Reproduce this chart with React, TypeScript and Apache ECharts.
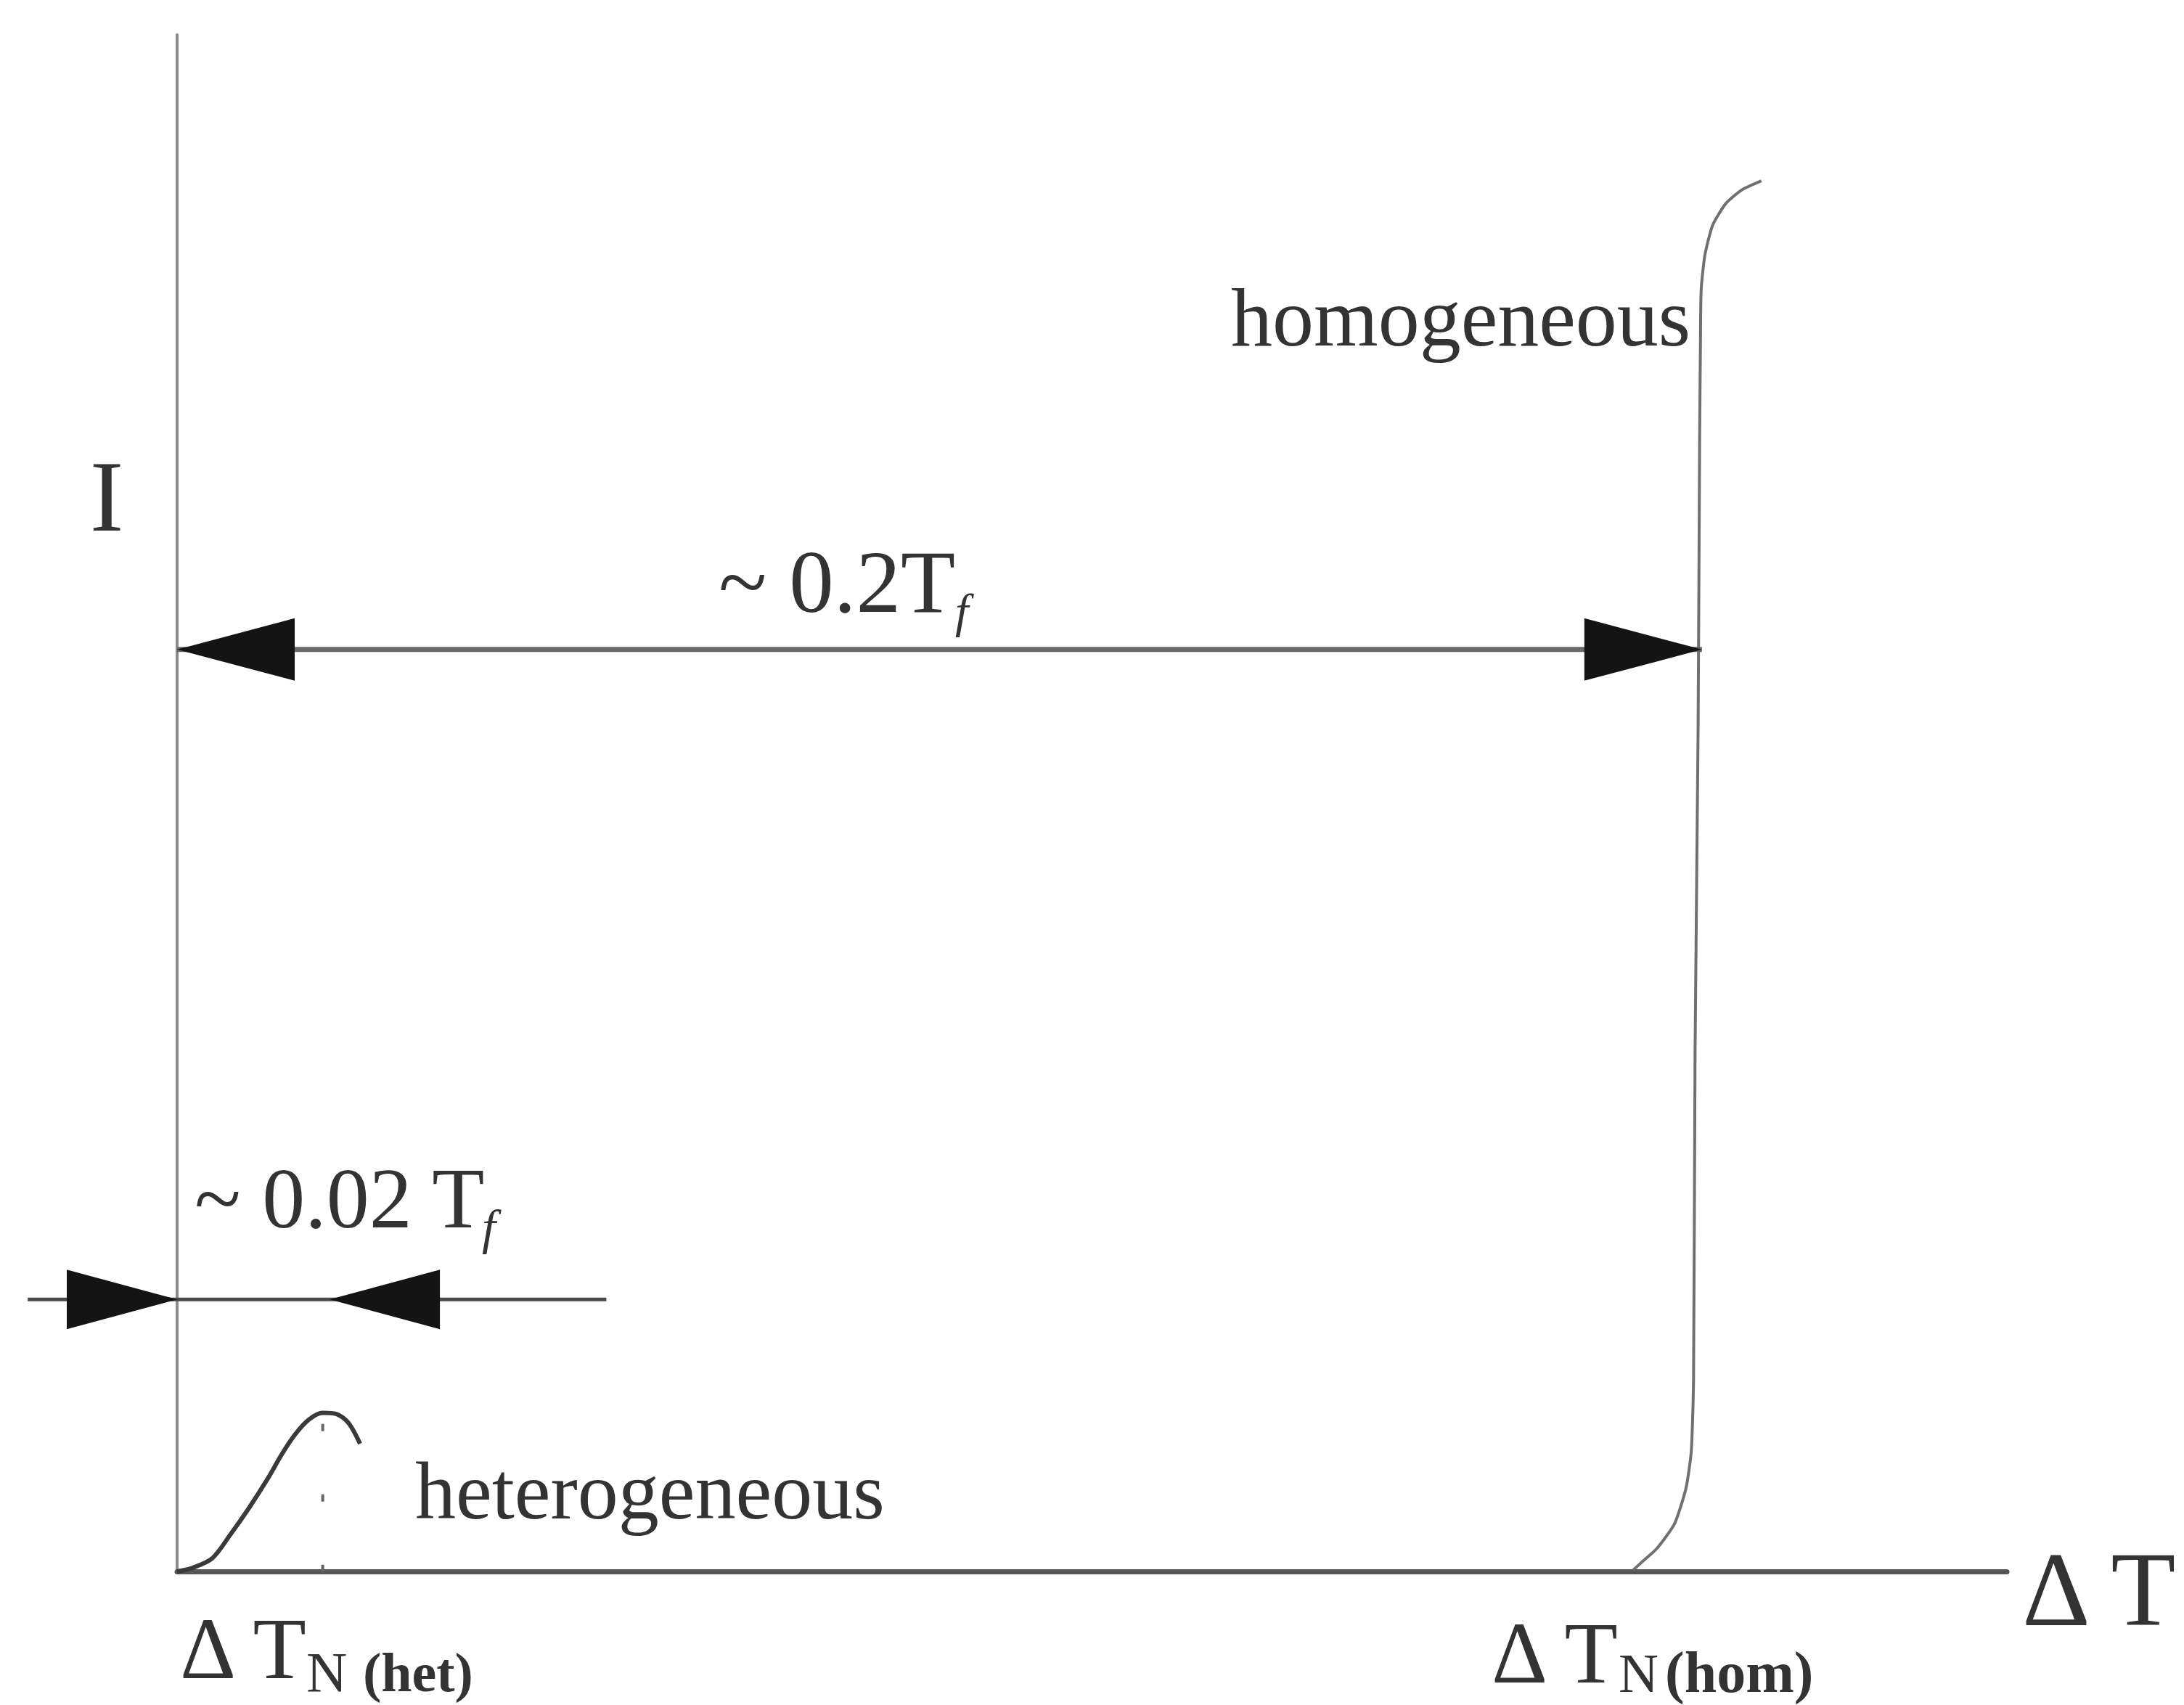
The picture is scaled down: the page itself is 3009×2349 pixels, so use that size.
import { useEffect, useRef } from "react";
import * as echarts from "echarts";

// Undercooling ΔT expressed as a fraction of the fusion temperature T_f
const X_MIN = 0;
const X_MAX = 0.24;
// Nucleation rate I, arbitrary units
const Y_MIN = 0;
const Y_MAX = 100;

// Homogeneous nucleation: rate stays ~0 until ΔT ≈ 0.2 T_f, then shoots up
const homDeltaT = [0.191, 0.1921, 0.1941, 0.1964, 0.1979, 0.1986, 0.1989, 0.1991, 0.1995, 0.1997, 0.1998, 0.1999, 0.2004, 0.2014, 0.2031, 0.2052, 0.2078];
const homRate = [0.1, 0.6, 1.5, 3.1, 5.4, 7.8, 12.5, 33.8, 55.0, 73.9, 79.6, 83.4, 85.7, 87.6, 89.0, 89.9, 90.5];

// Heterogeneous nucleation: small peak within ~0.02 T_f
const hetDeltaT = [0, 0.0021, 0.0046, 0.007, 0.0094, 0.0119, 0.0137, 0.0155, 0.0173, 0.0191, 0.0209, 0.0225, 0.024];
const hetRate = [0, 0.25, 0.85, 2.41, 4.11, 6.05, 7.6, 8.93, 9.89, 10.32, 10.25, 9.65, 8.31];

// Dotted drop line from the heterogeneous peak to the axis
const hetGuideDeltaT = [0.0191, 0.0191];
const hetGuideRate = [9.6, 0];

// Width markers: [from, to, level, shaftStart, shaftEnd, inward(1) / outward(0)]
const wideSpan = [0, 0.2, 60, 0, 0.2, 0];
const narrowSpan = [0, 0.02, 17.7, -0.0196, 0.0563, 1];

const SERIF = '"Liberation Serif", "Times New Roman", serif';
const INK = "#333";

type Piece = {
  text: string;
  x: number;
  baseline: number;
  size: number;
  align?: "left" | "center" | "right";
  weight?: string;
  italic?: boolean;
};

const textPiece = (p: Piece) => ({
  type: "text",
  x: p.x,
  y: p.baseline - 0.34 * p.size,
  silent: true,
  style: {
    text: p.text,
    fontFamily: SERIF,
    fontSize: p.size,
    fontWeight: p.weight || "normal",
    fontStyle: p.italic ? "italic" : "normal",
    fill: INK,
    align: p.align || "left",
    verticalAlign: "middle",
  },
});

const labels: Piece[] = [
  { text: "I", x: 147, baseline: 731, size: 140, align: "center" },
  { text: "~ 0.2T", x: 990, baseline: 843, size: 123 },
  { text: "f", x: 1316, baseline: 864, size: 66, italic: true },
  { text: "homogeneous", x: 1696, baseline: 476, size: 114 },
  { text: "~ 0.02 T", x: 268, baseline: 1692, size: 118 },
  { text: "f", x: 664, baseline: 1714, size: 68, italic: true },
  { text: "heterogeneous", x: 572, baseline: 2092, size: 112 },
  { text: "Δ T", x: 248, baseline: 2312, size: 120 },
  { text: "N", x: 422, baseline: 2330, size: 78 },
  { text: "(het)", x: 500, baseline: 2330, size: 76, weight: "bold" },
  { text: "Δ T", x: 2055, baseline: 2318, size: 120 },
  { text: "N", x: 2230, baseline: 2331, size: 76 },
  { text: "(hom)", x: 2294, baseline: 2331, size: 80, weight: "bold" },
  { text: "Δ T", x: 2786, baseline: 2240, size: 146 },
];

const pairs = (xs: number[], ys: number[]) => xs.map((x, i) => [x, ys[i]]);

export default function App() {
  const ref = useRef<HTMLDivElement>(null);

  useEffect(() => {
    if (!ref.current) return;
    const chart = echarts.init(ref.current, undefined, { renderer: "svg" });

    const renderSpan = (_params: any, api: any) => {
      const from = api.value(0);
      const to = api.value(1);
      const level = api.value(2);
      const shaftStart = api.value(3);
      const shaftEnd = api.value(4);
      const inward = api.value(5) === 1;
      const head = inward ? { len: 152, half: 41 } : { len: 162, half: 43 };
      const a = api.coord([from, level]);
      const b = api.coord([to, level]);
      const s0 = api.coord([shaftStart, level]);
      const s1 = api.coord([shaftEnd, level]);
      const dir = inward ? -1 : 1;
      const aBase = a[0] + dir * head.len;
      const bBase = b[0] - dir * head.len;
      return {
        type: "group",
        children: [
          {
            type: "line",
            shape: { x1: s0[0], y1: s0[1], x2: s1[0], y2: s1[1] },
            style: { stroke: inward ? "#4a4a4a" : "#686868", lineWidth: inward ? 5 : 7 },
          },
          {
            type: "polygon",
            shape: { points: [[a[0], a[1]], [aBase, a[1] - head.half], [aBase, a[1] + head.half]] },
            style: { fill: "#141414" },
          },
          {
            type: "polygon",
            shape: { points: [[b[0], b[1]], [bBase, b[1] - head.half], [bBase, b[1] + head.half]] },
            style: { fill: "#141414" },
          },
        ],
      };
    };

    chart.setOption({
      animation: false,
      backgroundColor: "#ffffff",
      grid: { left: 244, right: 244, top: 48, bottom: 184, containLabel: false },
      xAxis: {
        type: "value",
        min: X_MIN,
        max: X_MAX,
        axisLine: { show: true, onZero: false, lineStyle: { color: "#555", width: 7 } },
        axisTick: { show: false },
        axisLabel: { show: false },
        splitLine: { show: false },
      },
      yAxis: {
        type: "value",
        min: Y_MIN,
        max: Y_MAX,
        axisLine: { show: true, onZero: false, lineStyle: { color: "#8a8a8a", width: 4 } },
        axisTick: { show: false },
        axisLabel: { show: false },
        splitLine: { show: false },
      },
      series: [
        {
          name: "homogeneous",
          type: "line",
          data: pairs(homDeltaT, homRate),
          showSymbol: false,
          symbol: "none",
          smooth: 0.2,
          silent: true,
          lineStyle: { color: "#707070", width: 4 },
          z: 3,
        },
        {
          name: "heterogeneous",
          type: "line",
          data: pairs(hetDeltaT, hetRate),
          showSymbol: false,
          symbol: "none",
          smooth: 0.3,
          silent: true,
          lineStyle: { color: "#3a3a3a", width: 6 },
          z: 3,
        },
        {
          name: "peak guide",
          type: "line",
          data: pairs(hetGuideDeltaT, hetGuideRate),
          showSymbol: false,
          symbol: "none",
          silent: true,
          lineStyle: { color: "#666", width: 4, type: [10, 87] },
          z: 3,
        },
        {
          name: "spans",
          type: "custom",
          renderItem: renderSpan,
          data: [wideSpan, narrowSpan],
          encode: { x: [0, 1, 3, 4], y: 2 },
          clip: false,
          silent: true,
          z: 4,
        },
      ],
      graphic: labels.map(textPiece),
    });

    return () => chart.dispose();
  }, []);

  return (
    <div
      ref={ref}
      style={{ position: "absolute", left: 0, top: 0, width: 3009, height: 2349, background: "#fff" }}
    />
  );
}
